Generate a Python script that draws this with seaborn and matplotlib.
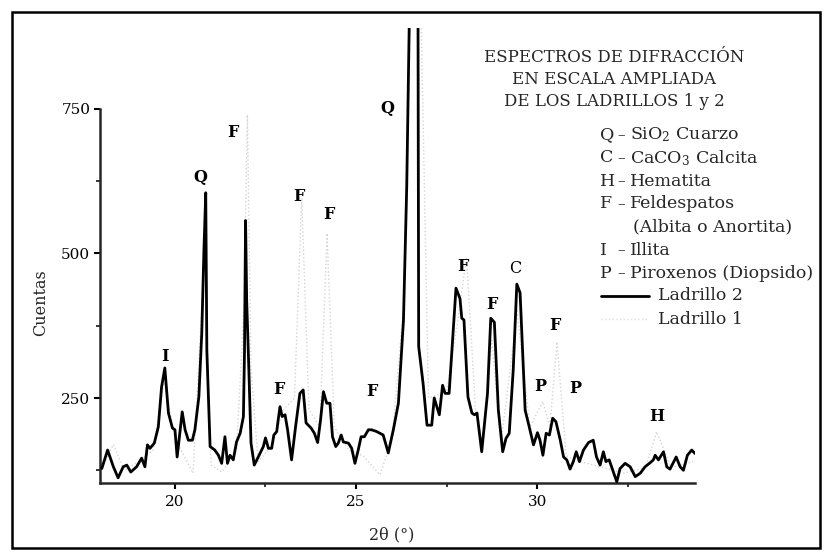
import numpy as np
import pandas as pd
import seaborn as sns
import matplotlib
matplotlib.use("Agg")
import matplotlib.pyplot as plt
from matplotlib.patches import Rectangle
from matplotlib.lines import Line2D
from matplotlib.ticker import FixedLocator

# ---------------- data ----------------
two_theta_l2 = [17.98, 18.14, 18.30, 18.43, 18.57, 18.67, 18.78, 18.94, 19.08, 19.17,
                19.24, 19.31, 19.43, 19.54, 19.63, 19.72, 19.82, 19.93, 20.00, 20.06,
                20.20, 20.28, 20.37, 20.48, 20.55, 20.66, 20.74, 20.80, 20.85, 20.88,
                20.97, 21.10, 21.20, 21.29, 21.38, 21.45, 21.52, 21.61, 21.70, 21.80,
                21.89, 21.92, 21.95, 21.98, 22.04, 22.10, 22.19, 22.30, 22.44, 22.50,
                22.58, 22.67, 22.73, 22.81, 22.85, 22.90, 22.96, 23.04, 23.11, 23.22,
                23.33, 23.45, 23.54, 23.62, 23.76, 23.85, 23.94, 24.02, 24.10, 24.19,
                24.28, 24.35, 24.44, 24.51, 24.59, 24.65, 24.79, 24.88, 24.97, 25.06,
                25.14, 25.23, 25.34, 25.43, 25.57, 25.75, 25.89, 26.03, 26.17, 26.31,
                26.40, 26.47, 26.59, 26.71, 26.73, 26.85, 26.96, 27.09, 27.16, 27.23,
                27.30, 27.39, 27.46, 27.57, 27.76, 27.87, 27.92, 27.98, 28.09, 28.20,
                28.27, 28.34, 28.47, 28.63, 28.72, 28.82, 28.93, 29.05, 29.14, 29.23,
                29.34, 29.44, 29.53, 29.67, 29.76, 29.90, 30.01, 30.08, 30.16, 30.25,
                30.34, 30.43, 30.52, 30.64, 30.73, 30.82, 30.91, 31.00, 31.08, 31.17,
                31.28, 31.42, 31.55, 31.64, 31.74, 31.83, 31.90, 31.99, 32.09, 32.20,
                32.29, 32.43, 32.57, 32.71, 32.85, 32.98, 33.12, 33.21, 33.26, 33.35,
                33.49, 33.58, 33.67, 33.84, 33.95, 34.04, 34.15, 34.27, 34.36]
counts_l2 = [128, 160, 131, 112, 131, 134, 122, 131, 146, 131,
             169, 163, 172, 200, 269, 302, 224, 198, 195, 148,
             226, 195, 177, 177, 195, 252, 362, 506, 605, 333,
             166, 160, 151, 137, 183, 137, 151, 143, 174, 189,
             218, 330, 557, 420, 300, 172, 134, 148, 166, 181,
             163, 163, 186, 192, 212, 235, 218, 221, 195, 143,
             200, 258, 264, 207, 198, 189, 173, 212, 261, 241,
             241, 183, 166, 172, 186, 174, 172, 163, 137, 160,
             183, 183, 195, 195, 192, 186, 155, 195, 241, 385,
             616, 900, 1400, 950, 339, 276, 203, 203, 250, 235,
             221, 272, 258, 258, 440, 422, 388, 385, 252, 224,
             221, 224, 157, 258, 388, 381, 229, 157, 180, 189,
             298, 447, 432, 229, 206, 169, 190, 177, 151, 189,
             186, 215, 209, 177, 148, 143, 127, 140, 157, 140,
             160, 173, 177, 148, 134, 157, 140, 143, 125, 105,
             128, 137, 131, 114, 120, 131, 138, 143, 151, 143,
             157, 131, 127, 148, 131, 125, 151, 160, 154]

two_theta_l1 = [18.0, 18.3, 18.6, 19.0, 19.4, 19.7, 20.0, 20.5, 20.8, 20.85, 20.9,
                21.0, 21.3, 21.7, 21.9, 22.0, 22.1, 22.3, 22.7, 23.0, 23.3, 23.5,
                23.7, 24.0, 24.2, 24.4, 24.8, 25.2, 25.66, 26.0, 26.3, 26.5, 26.65,
                26.8, 27.0, 27.5, 27.8, 28.05, 28.3, 28.5, 28.75, 29.0, 29.45, 29.8,
                30.16, 30.35, 30.55, 30.8, 31.2, 31.8, 32.4, 33.0, 33.3, 33.7, 34.3]
counts_l1 = [130, 170, 125, 140, 160, 280, 180, 120, 480, 560, 300,
             134, 122, 160, 400, 740, 300, 140, 170, 230, 250, 596,
             230, 200, 535, 200, 160, 150, 117, 180, 400, 900, 1600,
             900, 250, 260, 380, 494, 230, 170, 350, 170, 400, 200,
             244, 200, 347, 150, 140, 130, 120, 130, 192, 130, 140]

y_ticks = [250, 500, 750]
y_minor = [125, 375, 625]
x_ticks = [20, 25, 30]
x_minor = [22.5, 27.5, 32.5]

peak_labels = ["I", "Q", "F", "F", "F", "F", "F", "Q", "F", "F", "C", "P", "F", "P", "H"]
peak_x = [19.72, 20.69, 21.59, 22.88, 23.43, 24.24, 25.45, 25.86, 27.94, 28.75, 29.39, 30.10, 30.50, 31.05, 33.31]
peak_y = [322, 631, 710, 264, 598, 568, 261, 751, 477, 411, 474, 270, 376, 267, 218]

title_lines = ["ESPECTROS DE DIFRACCIÓN", "EN ESCALA AMPLIADA", "DE LOS LADRILLOS 1 y 2"]
legend_keys = ["Q", "C", "H", "F", "", "I", "P"]
legend_texts = ["SiO$_2$ Cuarzo", "CaCO$_3$ Calcita", "Hematita", "Feldespatos",
                "(Albita o Anortita)", "Illita", "Piroxenos (Diopsido)"]
series_names = ["Ladrillo 2", "Ladrillo 1"]

# ---------------- style ----------------
sns.set_style("ticks")
plt.rcParams['font.family'] = ['DejaVu Serif']
plt.rcParams['mathtext.fontset'] = 'dejavuserif'

W, H = 826, 555
fig = plt.figure(figsize=(W / 100, H / 100), dpi=100)
fx = lambda px: px / W
fy = lambda py: 1 - py / H

ax = fig.add_axes([fx(100), fy(483), fx(695) - fx(100), fy(28) - fy(483)])

df2 = pd.DataFrame({"x": two_theta_l2, "y": counts_l2})
df1 = pd.DataFrame({"x": two_theta_l1, "y": counts_l1})

sns.lineplot(data=df1, x="x", y="y", ax=ax, color="#d4d4d4", lw=1.0,
             linestyle=":", sort=False, zorder=2)
sns.lineplot(data=df2, x="x", y="y", ax=ax, color="black", lw=2.0,
             sort=False, zorder=3)

ax.set_xlim(17.93, 34.36)
ax.set_ylim(103, 890)
ax.set_xlabel("")
ax.set_ylabel("")

ax.yaxis.set_major_locator(FixedLocator(y_ticks))
ax.yaxis.set_minor_locator(FixedLocator(y_minor))
ax.xaxis.set_major_locator(FixedLocator(x_ticks))
ax.xaxis.set_minor_locator(FixedLocator(x_minor))
ax.set_yticklabels([str(v) for v in y_ticks])
ax.set_xticklabels([str(v) for v in x_ticks])

for s in ["top", "right"]:
    ax.spines[s].set_visible(False)
ax.spines["left"].set_bounds(103, 750)
ax.spines["left"].set_linewidth(1.8)
ax.spines["bottom"].set_linewidth(1.8)
ax.tick_params(axis="both", which="major", direction="out", length=4, width=1.5,
               labelsize=11, colors="black", pad=3)
ax.tick_params(axis="both", which="minor", direction="out", length=3, width=1.3)
ax.tick_params(axis="x", which="major", pad=5)

for lab, x, y in zip(peak_labels, peak_x, peak_y):
    ax.text(x, y, lab, ha="center", va="center", fontsize=11.5,
            fontweight="normal" if lab == "C" else "bold", color="black", zorder=4)

# axis labels
fig.text(fx(41), fy(303), "Cuentas", rotation=90, ha="center", va="center", fontsize=11.5)
fig.text(fx(392), fy(535), "2θ (°)", ha="center", va="center", fontsize=11.5)

# title block
for i, t in enumerate(title_lines):
    fig.text(fx(614), fy(57 + 22.5 * i), t, ha="center", va="center", fontsize=12)

# legend block
LS = 23.0
for i, (k, t) in enumerate(zip(legend_keys, legend_texts)):
    yy = fy(135 + LS * i)
    if k:
        fig.text(fx(600), yy, k, ha="left", va="center", fontsize=12.5)
        fig.text(fx(621), yy, "–", ha="center", va="center", fontsize=11)
        fig.text(fx(630), yy, t, ha="left", va="center", fontsize=12.5)
    else:
        fig.text(fx(633), yy, t, ha="left", va="center", fontsize=12.5)

y_l2 = fy(135 + LS * 7)
y_l1 = fy(135 + LS * 8)
fig.add_artist(Line2D([fx(601), fx(649)], [y_l2, y_l2], color="black", lw=2.0,
                      transform=fig.transFigure))
fig.add_artist(Line2D([fx(601), fx(649)], [y_l1, y_l1], color="#e0e0e0", lw=1.0,
                      linestyle=":", transform=fig.transFigure))
fig.text(fx(658), y_l2, series_names[0], ha="left", va="center", fontsize=12.5)
fig.text(fx(658), y_l1, series_names[1], ha="left", va="center", fontsize=12.5)

# outer frame
fig.add_artist(Rectangle((fx(12), fy(548)), fx(820) - fx(12), fy(12) - fy(548),
                         transform=fig.transFigure, fill=False, lw=1.8,
                         edgecolor="black"))

fig.savefig("out.png", dpi=100)
